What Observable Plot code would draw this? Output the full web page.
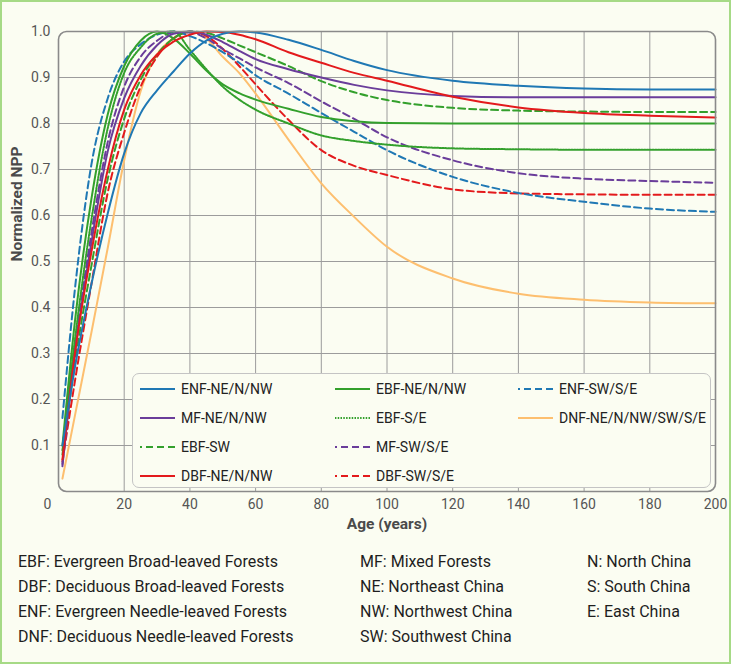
<!DOCTYPE html>
<html><head><meta charset="utf-8">
<script src="https://cdn.jsdelivr.net/npm/d3@7"></script>
<script src="https://cdn.jsdelivr.net/npm/@observablehq/plot@0.6"></script>
<style>
html,body{margin:0;padding:0;background:#fbfdf2;}
body{width:731px;height:664px;position:relative;overflow:hidden;font-family:Roboto,sans-serif;}
#border{position:absolute;left:0;top:0;width:731px;height:664px;box-sizing:border-box;border:2px solid #a6da86;pointer-events:none;z-index:5;}
#chart{position:absolute;left:0;top:0;}
#legend{position:absolute;left:132px;top:373px;width:579px;height:115px;box-sizing:border-box;border:1px solid #c4c4c4;border-radius:7px;background:#fbfdf2;}
.li{position:absolute;height:20px;display:flex;align-items:center;font-size:14px;color:#222;white-space:nowrap;}
.li svg{margin-right:5px;}
.note{position:absolute;font-size:16px;color:#1e1e1e;white-space:nowrap;line-height:20px;}
</style>
</head><body>
<div id="chart"></div>
<div id="legend"></div>
<div id="notes"></div>
<div id="border"></div>
<script>
// Ages (years) at which curves were read
const ages = [1.2, 5, 10, 15, 20, 25, 30, 35, 40, 45, 50, 55, 60, 70, 80, 90, 100, 120, 140, 160, 180, 200];

// Normalized NPP values per forest type / region
const enfNE = [0.10, 0.27, 0.45, 0.605, 0.735, 0.822, 0.872, 0.913, 0.952, 0.98, 0.995, 1.0, 0.998, 0.982, 0.96, 0.936, 0.916, 0.893, 0.882, 0.876, 0.874, 0.874];
const mfNE  = [0.055, 0.30, 0.54, 0.74, 0.855, 0.925, 0.97, 0.995, 1.0, 0.993, 0.977, 0.958, 0.94, 0.918, 0.90, 0.884, 0.872, 0.86, 0.857, 0.857, 0.857, 0.857];
const ebfSW = [0.08, 0.28, 0.49, 0.68, 0.81, 0.895, 0.95, 0.985, 1.0, 0.997, 0.985, 0.97, 0.955, 0.925, 0.892, 0.868, 0.851, 0.834, 0.828, 0.826, 0.825, 0.825];
const dbfNE = [0.07, 0.30, 0.52, 0.70, 0.83, 0.905, 0.95, 0.978, 0.993, 1.0, 0.999, 0.993, 0.983, 0.955, 0.932, 0.91, 0.893, 0.858, 0.835, 0.823, 0.817, 0.813];
const ebfNE = [0.10, 0.37, 0.635, 0.82, 0.925, 0.98, 1.0, 0.985, 0.952, 0.915, 0.885, 0.866, 0.852, 0.832, 0.814, 0.805, 0.801, 0.80, 0.80, 0.80, 0.80, 0.80];
const ebfSE = [0.09, 0.33, 0.59, 0.79, 0.91, 0.965, 0.995, 1.0, 0.96, 0.918, 0.88, 0.852, 0.83, 0.80, 0.774, 0.762, 0.754, 0.746, 0.744, 0.743, 0.743, 0.743];
const mfSW  = [0.06, 0.31, 0.56, 0.76, 0.88, 0.945, 0.98, 0.998, 0.998, 0.985, 0.962, 0.942, 0.922, 0.888, 0.848, 0.81, 0.77, 0.72, 0.692, 0.68, 0.675, 0.671];
const dbfSW = [0.065, 0.24, 0.45, 0.65, 0.78, 0.88, 0.945, 0.985, 0.999, 0.99, 0.962, 0.925, 0.885, 0.808, 0.742, 0.708, 0.688, 0.657, 0.648, 0.646, 0.645, 0.645];
const enfSW = [0.16, 0.44, 0.71, 0.855, 0.935, 0.972, 0.993, 1.0, 0.99, 0.975, 0.955, 0.932, 0.905, 0.865, 0.823, 0.782, 0.742, 0.684, 0.649, 0.63, 0.615, 0.608];
const dnfAll = [0.028, 0.165, 0.345, 0.53, 0.72, 0.87, 0.95, 0.985, 1.0, 0.985, 0.945, 0.91, 0.865, 0.765, 0.67, 0.597, 0.532, 0.463, 0.43, 0.417, 0.411, 0.409];

// Series names (legend order, column-major), colours, dash styles
const names  = ["ENF-NE/N/NW", "MF-NE/N/NW", "EBF-SW", "DBF-NE/N/NW", "EBF-NE/N/NW", "EBF-S/E", "MF-SW/S/E", "DBF-SW/S/E", "ENF-SW/S/E", "DNF-NE/N/NW/SW/S/E"];
const colors = ["#1f78b4", "#6a3d9a", "#33a02c", "#e31a1c", "#33a02c", "#33a02c", "#6a3d9a", "#e31a1c", "#1f78b4", "#fdbf6f"];
const dashes = [null, null, "7,4", null, null, "1.5,1.3", "7,4", "7,4", "7,4", null];
const valuesList = [enfNE, mfNE, ebfSW, dbfNE, ebfNE, ebfSE, mfSW, dbfSW, enfSW, dnfAll];

const xTicks = [0, 20, 40, 60, 80, 100, 120, 140, 160, 180, 200];
const yTicks = [0.1, 0.2, 0.3, 0.4, 0.5, 0.6, 0.7, 0.8, 0.9, 1.0];

const xTitle = "Age (years)";
const yTitle = "Normalized NPP";

const notes = [
  ["EBF: Evergreen Broad-leaved Forests", "DBF: Deciduous Broad-leaved Forests", "ENF: Evergreen Needle-leaved Forests", "DNF: Deciduous Needle-leaved Forests"],
  ["MF: Mixed Forests", "NE: Northeast China", "NW: Northwest China", "SW: Southwest China"],
  ["N: North China", "S: South China", "E: East China"]
];

// Build tidy tables
const seriesData = names.map((n, i) => ages.map((a, j) => ({age: a, npp: valuesList[i][j], name: n})));
const drawOrder = [9, 7, 6, 8, 5, 4, 2, 1, 3, 0];

const lineMarks = drawOrder.map(i => Plot.line(seriesData[i], {
  x: "age", y: "npp", stroke: colors[i], strokeWidth: 2,
  strokeDasharray: dashes[i] || undefined, curve: "monotone-x"
}));

const chart = Plot.plot({
  width: 731, height: 545,
  marginTop: 31, marginBottom: 54, marginLeft: 58, marginRight: 16,
  x: {domain: [0, 200]},
  y: {domain: [0, 1]},
  style: {background: "transparent", fontFamily: "Roboto, sans-serif", fontSize: "14px", color: "#555", overflow: "visible"},
  marks: [
    Plot.gridX(xTicks.filter(t => t > 0 && t < 200), {stroke: "#9c9c9c", strokeOpacity: 1, strokeWidth: 1}),
    Plot.gridY(yTicks.filter(t => t < 1), {stroke: "#9c9c9c", strokeOpacity: 1, strokeWidth: 1}),
    ...lineMarks,
    Plot.frame({stroke: "#8a8a8a", strokeWidth: 1.6, rx: 8, ry: 8}),
    Plot.axisY(yTicks, {tickSize: 0, tickPadding: 8, tickFormat: d => d.toFixed(1), label: null, fill: "#555", fontSize: 14}),
    Plot.axisX(xTicks.filter(t => t > 0), {tickSize: 0, tickPadding: 8, label: null, fill: "#555", fontSize: 14}),
    Plot.axisX([0], {tickSize: 0, tickPadding: 8, dx: -11, label: null, fill: "#555", fontSize: 14}),
    Plot.text([xTitle], {frameAnchor: "bottom", dy: 37, text: d => d, fontWeight: "bold", fontSize: 15.5, fill: "#4a4a4a"}),
    Plot.text([yTitle], {frameAnchor: "left", dx: -41, rotate: -90, text: d => d, fontWeight: "bold", fontSize: 15.5, fill: "#4a4a4a"})
  ]
});
document.getElementById("chart").appendChild(chart);

// Legend (4 rows, column-major)
const legend = document.getElementById("legend");
const colX = [6, 201, 384];
const rowY = [5, 34, 63, 92];
names.forEach((n, i) => {
  const col = Math.floor(i / 4), row = i % 4;
  const d = document.createElement("div");
  d.className = "li";
  d.style.left = colX[col] + "px";
  d.style.top = rowY[row] + "px";
  const da = dashes[i] ? `stroke-dasharray="${dashes[i]}"` : "";
  d.innerHTML = `<svg width="37" height="10"><line x1="36" y1="5" x2="1" y2="5" stroke="${colors[i]}" stroke-width="2" ${da}/></svg><span>${n}</span>`;
  legend.appendChild(d);
});

// Footnotes
const notesDiv = document.getElementById("notes");
const noteX = [18, 360, 587];
const noteY = [552, 577, 602, 627];
notes.forEach((col, c) => col.forEach((t, r) => {
  const d = document.createElement("div");
  d.className = "note";
  d.style.left = noteX[c] + "px";
  d.style.top = noteY[r] + "px";
  d.textContent = t;
  notesDiv.appendChild(d);
}));
</script>
</body></html>
